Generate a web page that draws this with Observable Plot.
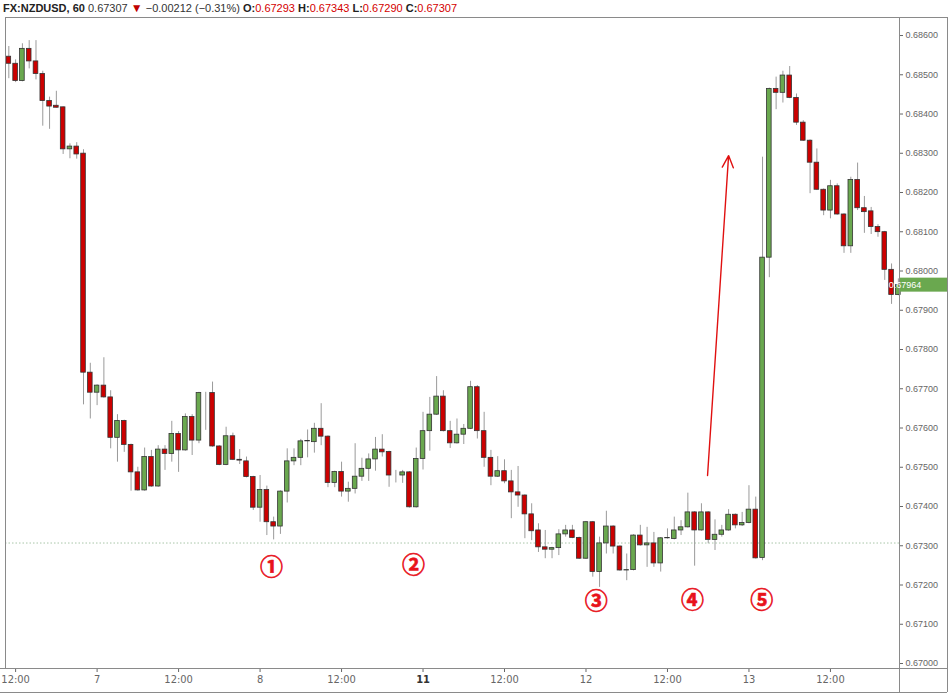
<!DOCTYPE html>
<html>
<head>
<meta charset="utf-8">
<script src="https://cdn.jsdelivr.net/npm/d3@7"></script>
<script src="https://cdn.jsdelivr.net/npm/@observablehq/plot@0.6"></script>
<style>
  html, body { margin: 0; padding: 0; background: #fff; overflow: hidden; }
  #wrap { position: relative; width: 950px; height: 694px; }
  #hdr { position: absolute; left: 3px; top: 1px; font: 11px "Liberation Sans", Arial, sans-serif; color: #333; white-space: nowrap; }
  #hdr b { font-weight: bold; color: #222; }
  #hdr .r { color: #d40000; }
  #hdr .t { color: #c00000; font-size: 12px; }
</style>
</head>
<body>
<div id="wrap">
  <div id="chart"></div>
  <div id="hdr"><b>FX:NZDUSD, 60</b> 0.67307 <span class="t">▼</span> −0.00212 (−0.31%) <b>O:</b><span class="r">0.67293</span> <b>H:</b><span class="r">0.67343</span> <b>L:</b><span class="r">0.67290</span> <b>C:</b><span class="r">0.67307</span></div>
</div>
<script>
// hourly candles, index 0 = first bar
const open = [
0.68546,0.68528,0.68484,0.68566,0.68534,0.68502,0.68433,0.68421,0.68417,0.68310,
0.68317,0.68299,0.67741,0.67690,0.67708,0.67678,0.67575,0.67618,0.67557,0.67487,
0.67441,0.67526,0.67451,0.67545,0.67534,0.67585,0.67543,0.67628,0.67568,0.67689,
0.67689,0.67553,0.67506,0.67579,0.67519,0.67515,0.67475,0.67397,0.67442,0.67360,
0.67349,0.67438,0.67515,0.67524,0.67566,0.67564,0.67598,0.67578,0.67460,0.67488,
0.67438,0.67445,0.67476,0.67496,0.67520,0.67545,0.67539,0.67479,0.67479,0.67487,
0.67398,0.67521,0.67592,0.67634,0.67680,0.67592,0.67561,0.67583,0.67598,0.67704,
0.67592,0.67524,0.67476,0.67490,0.67464,0.67436,0.67428,0.67380,0.67339,0.67296,
0.67290,0.67294,0.67329,0.67339,0.67320,0.67267,0.67360,0.67233,0.67306,0.67349,
0.67298,0.67237,0.67238,0.67326,0.67301,0.67306,0.67255,0.67319,0.67317,0.67339,
0.67347,0.67385,0.67339,0.67385,0.67315,0.67328,0.67339,0.67379,0.67352,0.67358,
0.67392,0.67269,0.68034,0.68464,0.68454,0.68498,0.68441,0.68378,0.68332,0.68276,
0.68207,0.68154,0.68216,0.68144,0.68063,0.68232,0.68160,0.68152,0.68112,0.68099,
0.68003,0.67939];
const high = [
0.68572,0.68538,0.68579,0.68587,0.68587,0.68509,0.68443,0.68458,0.68418,0.68324,
0.68327,0.68309,0.67765,0.67710,0.67779,0.67695,0.67634,0.67620,0.67559,0.67500,
0.67549,0.67543,0.67555,0.67555,0.67617,0.67591,0.67636,0.67634,0.67691,0.67691,
0.67717,0.67555,0.67602,0.67587,0.67545,0.67526,0.67477,0.67479,0.67452,0.67373,
0.67440,0.67547,0.67547,0.67571,0.67595,0.67612,0.67662,0.67580,0.67490,0.67513,
0.67462,0.67560,0.67523,0.67534,0.67576,0.67583,0.67541,0.67492,0.67492,0.67489,
0.67549,0.67640,0.67678,0.67731,0.67695,0.67617,0.67623,0.67609,0.67719,0.67708,
0.67640,0.67543,0.67527,0.67519,0.67492,0.67502,0.67430,0.67407,0.67356,0.67339,
0.67296,0.67341,0.67352,0.67352,0.67322,0.67362,0.67362,0.67322,0.67388,0.67351,
0.67300,0.67279,0.67328,0.67352,0.67347,0.67334,0.67321,0.67343,0.67373,0.67364,
0.67434,0.67387,0.67407,0.67387,0.67366,0.67352,0.67392,0.67381,0.67385,0.67453,
0.67424,0.68290,0.68466,0.68494,0.68509,0.68521,0.68451,0.68383,0.68334,0.68311,
0.68209,0.68231,0.68222,0.68146,0.68239,0.68275,0.68190,0.68162,0.68118,0.68101,
0.68018,0.67980];
const low = [
0.68490,0.68480,0.68482,0.68515,0.68487,0.68369,0.68361,0.68415,0.68297,0.68286,
0.68285,0.67659,0.67623,0.67657,0.67676,0.67547,0.67513,0.67538,0.67439,0.67439,
0.67439,0.67449,0.67449,0.67492,0.67513,0.67487,0.67541,0.67530,0.67560,0.67594,
0.67551,0.67504,0.67504,0.67517,0.67507,0.67473,0.67390,0.67360,0.67326,0.67315,
0.67329,0.67409,0.67504,0.67504,0.67524,0.67536,0.67555,0.67448,0.67448,0.67424,
0.67411,0.67432,0.67464,0.67464,0.67490,0.67526,0.67449,0.67460,0.67459,0.67396,
0.67396,0.67493,0.67541,0.67632,0.67590,0.67548,0.67559,0.67558,0.67596,0.67572,
0.67500,0.67453,0.67474,0.67458,0.67369,0.67398,0.67318,0.67313,0.67283,0.67267,
0.67267,0.67275,0.67322,0.67318,0.67265,0.67265,0.67220,0.67194,0.67279,0.67279,
0.67235,0.67211,0.67236,0.67299,0.67245,0.67245,0.67233,0.67317,0.67315,0.67326,
0.67345,0.67248,0.67337,0.67305,0.67288,0.67322,0.67337,0.67343,0.67349,0.67356,
0.67266,0.67262,0.67983,0.68411,0.68428,0.68439,0.68371,0.68330,0.68197,0.68205,
0.68141,0.68133,0.68142,0.68045,0.68045,0.68154,0.68096,0.68093,0.68086,0.67976,
0.67915,0.67937];
const close = [
0.68528,0.68484,0.68566,0.68534,0.68502,0.68433,0.68419,0.68416,0.68310,0.68317,
0.68297,0.67741,0.67690,0.67708,0.67678,0.67575,0.67618,0.67557,0.67487,0.67441,
0.67526,0.67451,0.67545,0.67534,0.67585,0.67543,0.67628,0.67568,0.67689,0.67689,
0.67553,0.67506,0.67579,0.67519,0.67517,0.67475,0.67397,0.67442,0.67360,0.67349,
0.67438,0.67515,0.67524,0.67566,0.67567,0.67598,0.67578,0.67460,0.67488,0.67438,
0.67445,0.67476,0.67496,0.67520,0.67545,0.67538,0.67479,0.67479,0.67487,0.67398,
0.67521,0.67592,0.67634,0.67680,0.67592,0.67561,0.67583,0.67598,0.67704,0.67592,
0.67524,0.67476,0.67490,0.67464,0.67436,0.67428,0.67380,0.67337,0.67296,0.67290,
0.67294,0.67329,0.67339,0.67320,0.67267,0.67360,0.67233,0.67306,0.67349,0.67298,
0.67237,0.67238,0.67326,0.67301,0.67306,0.67255,0.67319,0.67320,0.67339,0.67347,
0.67385,0.67339,0.67385,0.67315,0.67328,0.67339,0.67379,0.67352,0.67358,0.67392,
0.67268,0.68034,0.68464,0.68454,0.68498,0.68441,0.68378,0.68332,0.68276,0.68207,
0.68154,0.68216,0.68144,0.68063,0.68232,0.68160,0.68150,0.68112,0.68099,0.68003,
0.67939,0.67964];

const xTickIndex = [1, 13, 25, 37, 49, 61, 73, 85, 97, 109, 121];
const xTickLabels = ["12:00", "7", "12:00", "8", "12:00", "11", "12:00", "12", "12:00", "13", "12:00"];
const yTicks = [0.670,0.671,0.672,0.673,0.674,0.675,0.676,0.677,0.678,0.679,0.680,0.681,0.682,0.683,0.684,0.685,0.686];

const lastPrice = 0.67964;
const refLine = 0.67307;

const markIndex = [38.7, 59.6, 86.5, 100.7, 110.9];
const markPrice = [0.67244, 0.67250, 0.67158, 0.67160, 0.67160];
const markText = ["①", "②", "③", "④", "⑤"];

const arrowFrom = {i: 102.9, p: 0.67479};
const arrowTo = {i: 106.0, p: 0.68294};

const candles = open.map((o, i) => ({i, o, h: high[i], l: low[i], c: close[i]}));
const marks = markText.map((t, k) => ({i: markIndex[k], p: markPrice[k], t}));

const UP = "#6aa84f", DOWN = "#cc0000";

const chart = Plot.plot({
  width: 950,
  height: 694,
  marginLeft: 5,
  marginRight: 51,
  marginTop: 17,
  marginBottom: 26,
  style: {background: "#fff", overflow: "visible"},
  x: {domain: [-0.49, 131.17], axis: null, label: null},
  y: {domain: [0.669873, 0.686459], axis: null, label: null},
  color: {type: "identity"},
  marks: [
    Plot.ruleY([refLine], {stroke: "#a8c6a8", strokeDasharray: "1.5,2", strokeWidth: 1}),
    Plot.ruleX(candles, {x: "i", y1: "l", y2: "h", stroke: "#9a9a9a", strokeWidth: 1}),
    Plot.rect(candles, {
      x1: d => d.i - 0.34, x2: d => d.i + 0.34,
      y1: "o", y2: "c",
      fill: d => d.c >= d.o ? UP : DOWN,
      stroke: "#333", strokeWidth: 0.8
    }),
    Plot.arrow([{}], {
      x1: () => arrowFrom.i, y1: () => arrowFrom.p, x2: () => arrowTo.i, y2: () => arrowTo.p,
      stroke: "#e01010", strokeWidth: 1.4, headLength: 14, headAngle: 50
    }),
    Plot.text(marks, {x: "i", y: "p", text: "t", fill: "#e8121b", stroke: "#e8121b", strokeWidth: 0.6, fontSize: 23, fontWeight: "bold", fontFamily: "Noto Sans CJK JP"}),
    Plot.axisY(yTicks, {anchor: "right", label: null, tickSize: 3, tickPadding: 3, tickFormat: d3.format(".5f"), fontSize: 9, color: "#666", fontFamily: "Liberation Sans, Arial"}),
    Plot.axisX(xTickIndex, {anchor: "bottom", label: null, tickSize: 4, tickPadding: 3, tickFormat: i => xTickLabels[xTickIndex.indexOf(i)], fontSize: 11, color: "#666", fontFamily: "Liberation Sans Narrow, DejaVu Sans Condensed, sans-serif"})
  ]
});

document.getElementById("chart").appendChild(chart);

// frame lines and last-price tag, placed with the plot's own scales
const svg = d3.select(chart);
const ys = chart.scale("y");
const yLast = ys.apply(lastPrice);
const g = svg.append("g");
const lc = "#8a8a8a";
g.append("line").attr("x1", 5).attr("x2", 947).attr("y1", 17.5).attr("y2", 17.5).attr("stroke", lc);
g.append("line").attr("x1", 5.5).attr("x2", 5.5).attr("y1", 17).attr("y2", 668).attr("stroke", lc);
g.append("line").attr("x1", 0).attr("x2", 947).attr("y1", 668.5).attr("y2", 668.5).attr("stroke", lc);
g.append("line").attr("x1", 899.5).attr("x2", 899.5).attr("y1", 17).attr("y2", 692).attr("stroke", lc);
g.append("line").attr("x1", 947.5).attr("x2", 947.5).attr("y1", 17).attr("y2", 692).attr("stroke", lc);
g.append("line").attr("x1", 0).attr("x2", 947).attr("y1", 692.5).attr("y2", 692.5).attr("stroke", lc);
g.append("rect").attr("x", 900).attr("y", yLast - 7).attr("width", 47).attr("height", 14).attr("fill", UP);
g.append("text").attr("x", 905).attr("y", yLast).attr("dy", "0.35em").attr("fill", "#fff")
  .attr("font-size", 9).attr("font-family", "Liberation Sans, Arial").text(d3.format(".5f")(lastPrice));
svg.selectAll("text").filter(function () { return this.textContent === "11"; }).attr("font-weight", "bold").attr("fill", "#333");
</script>
</body>
</html>
